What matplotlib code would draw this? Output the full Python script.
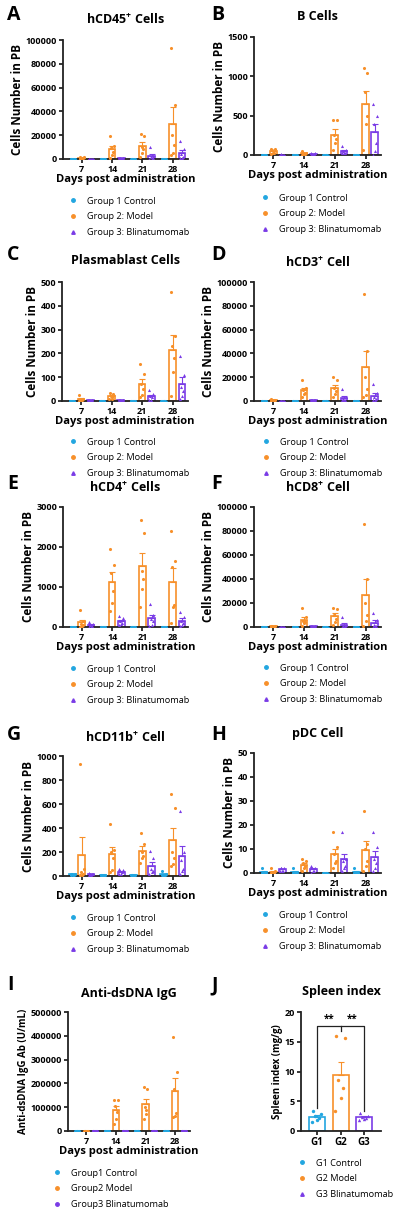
import matplotlib
matplotlib.use("Agg")
import matplotlib.pyplot as plt
from matplotlib.lines import Line2D
import numpy as np

plt.rcParams["font.family"] = ["Open Sans", "DejaVu Sans"]
plt.rcParams["mathtext.fontset"] = "custom"
plt.rcParams["mathtext.rm"] = "Open Sans"
plt.rcParams["mathtext.bf"] = "Open Sans:bold"

C1, C2, C3 = "#22a6e0", "#f7902a", "#7a3ce6"
COLORS = [C1, C2, C3]

days = ["7", "14", "21", "28"]
groups = ["Group 1 Control", "Group 2: Model", "Group 3: Blinatumomab"]
groups_i = ["Group1 Control", "Group2 Model", "Group3 Blinatumomab"]
groups_j = ["G1 Control", "G2 Model", "G3 Blinatumomab"]

# per panel: [group][day] -> individual animals
hcd45 = [
    [[60, 40, 20, 10, 0, 0], [50, 30, 20, 10, 0, 0], [40, 20, 10, 0, 0, 0], [50, 30, 10, 0, 0, 0]],
    [[1800, 1500, 1000, 800, 500, 300], [19000, 11000, 9000, 6000, 3000, 1000],
     [21000, 19500, 10000, 8000, 5000, 2000], [93000, 45000, 20000, 12000, 5000, 3000]],
    [[400, 300, 200, 100, 50, 0], [1200, 800, 500, 300, 200, 100],
     [10000, 2500, 1500, 800, 300, 100], [15000, 8000, 4000, 2000, 1000, 500]],
]
bcells = [
    [[2, 1, 1, 0, 0, 0], [2, 1, 0, 0, 0, 0], [2, 1, 0, 0, 0, 0], [2, 1, 0, 0, 0, 0]],
    [[80, 70, 60, 30, 20, 10], [50, 30, 20, 10, 5, 5],
     [450, 440, 260, 200, 150, 60], [1110, 1040, 800, 500, 400, 60]],
    [[10, 5, 5, 2, 1, 0], [30, 20, 15, 10, 5, 5],
     [120, 60, 50, 30, 20, 20], [650, 500, 400, 150, 50, 0]],
]
plasma = [
    [[1, 1, 0, 0, 0, 0], [1, 0, 0, 0, 0, 0], [1, 0, 0, 0, 0, 0], [1, 0, 0, 0, 0, 0]],
    [[25, 10, 5, 5, 2, 0], [35, 30, 20, 15, 10, 10],
     [155, 115, 70, 50, 25, 15], [460, 275, 230, 180, 120, 20]],
    [[5, 5, 3, 2, 1, 0], [6, 4, 3, 2, 1, 0],
     [45, 30, 20, 15, 5, 5], [190, 110, 60, 40, 20, 10]],
]
hcd3 = [
    [[40, 20, 10, 0, 0, 0], [40, 20, 10, 0, 0, 0], [30, 20, 0, 0, 0, 0], [40, 20, 0, 0, 0, 0]],
    [[1500, 1200, 800, 600, 400, 200], [18000, 11000, 9000, 7000, 6000, 3000],
     [20000, 18000, 11000, 8000, 6000, 3000], [90000, 42000, 20000, 10000, 5000, 3000]],
    [[300, 200, 150, 100, 50, 0], [1200, 900, 700, 500, 300, 200],
     [10000, 3000, 2000, 1000, 500, 500], [14000, 7000, 3000, 2000, 1000, 500]],
]
hcd4 = [
    [[3, 2, 1, 0, 0, 0], [3, 2, 1, 0, 0, 0], [3, 2, 0, 0, 0, 0], [3, 1, 0, 0, 0, 0]],
    [[420, 150, 80, 50, 20, 10], [1960, 1550, 1350, 900, 600, 400],
     [2680, 2350, 1400, 1200, 950, 500], [2400, 1650, 1500, 550, 500, 100]],
    [[120, 80, 50, 30, 10, 10], [280, 220, 150, 100, 80, 60],
     [580, 300, 200, 150, 50, 30], [380, 250, 150, 100, 50, 30]],
]
hcd8 = [
    [[30, 20, 10, 0, 0, 0], [30, 20, 0, 0, 0, 0], [30, 10, 0, 0, 0, 0], [30, 10, 0, 0, 0, 0]],
    [[1200, 900, 600, 400, 300, 200], [16000, 8000, 5000, 4000, 3000, 1000],
     [16000, 15000, 10000, 7000, 4000, 2000], [86000, 40000, 20000, 10000, 5000, 1000]],
    [[300, 200, 100, 50, 0, 0], [1000, 700, 500, 300, 200, 100],
     [8000, 2000, 1000, 500, 300, 200], [12000, 6000, 2000, 1000, 500, 0]],
]
hcd11b = [
    [[20, 15, 15, 10, 10, 10], [12, 10, 10, 8, 8, 6], [12, 10, 10, 8, 8, 6], [40, 15, 10, 10, 5, 5]],
    [[930, 60, 30, 20, 10, 5], [430, 220, 200, 150, 50, 30],
     [360, 270, 200, 170, 150, 110], [680, 570, 200, 150, 100, 80]],
    [[25, 20, 15, 15, 10, 10], [60, 50, 40, 30, 20, 20],
     [210, 150, 60, 40, 30, 20], [545, 200, 130, 60, 40, 20]],
]
pdc = [
    [[2, 0, 0, 0, 0, 0], [2, 0, 0, 0, 0, 0], [0, 0, 0, 0, 0, 0], [2, 0, 0, 0, 0, 0]],
    [[2, 1, 0, 0, 0, 0], [6, 5, 4, 3, 2, 1], [17, 11, 8, 5, 4, 2], [26, 12, 10, 5, 3, 1]],
    [[2, 2, 2, 1, 1, 1], [3, 2, 2, 1, 1, 0], [17, 6, 5, 3, 2, 1], [17, 11, 6, 4, 2, 1]],
]
dsdna = [
    [[0, 0, 0, 0, 0, 0], [0, 0, 0, 0, 0, 0], [0, 0, 0, 0, 0, 0], [0, 0, 0, 0, 0, 0]],
    [[800, 500, 300, 200, 100, 0], [130000, 130000, 105000, 80000, 50000, 30000],
     [185000, 175000, 100000, 90000, 70000, 50000], [395000, 250000, 175000, 75000, 65000, 60000]],
    [[0, 0, 0, 0, 0, 0], [0, 0, 0, 0, 0, 0], [0, 0, 0, 0, 0, 0], [0, 0, 0, 0, 0, 0]],
]
spleen_labels = ["G1", "G2", "G3"]
spleen = [
    [3.3, 2.8, 2.5, 2.2, 1.8, 1.5],
    [16.0, 15.7, 8.5, 7.3, 5.5, 3.4],
    [3.0, 2.5, 2.3, 2.2, 2.0, 1.8],
]

JITTER = np.array([-0.06, 0.06, -0.03, 0.03, 0.0, -0.07])
MARKERS = ["o", "o", "^"]
W, H = 409, 1217


def fax(left, right, top, bottom):
    return fig.add_axes([left / W, 1 - bottom / H, (right - left) / W, (bottom - top) / H])


def style(ax, ylabel, ysize):
    for s in ["top", "right"]:
        ax.spines[s].set_visible(False)
    for s in ["left", "bottom"]:
        ax.spines[s].set_linewidth(1.3)
        ax.spines[s].set_color("#222222")
    ax.tick_params(length=3, width=1.1, pad=1.2, labelsize=6.5)
    for lab in ax.get_xticklabels() + ax.get_yticklabels():
        lab.set_fontweight("bold")
    ax.set_ylabel(ylabel, fontsize=ysize, fontweight="bold", labelpad=1)


def draw_bar(ax, x, vals, color, marker, width, ms):
    vals = np.asarray(vals, float)
    m = vals.mean()
    sem = vals.std(ddof=1) / np.sqrt(len(vals))
    ax.bar(x, m, width=width, facecolor="white", edgecolor=color, linewidth=1.2, zorder=2)
    ax.errorbar(x, m, yerr=[[0], [sem]], color=color, capsize=2, elinewidth=0.8,
                capthick=0.8, zorder=3)
    ax.scatter(x + JITTER[:len(vals)] * width / 0.22, vals, s=ms, color=color,
               marker=marker, linewidths=0, zorder=4)


def legend(ax, labels, mx, ry, markers=MARKERS):
    handles = [Line2D([], [], ls="none", marker=mk, color=c, markersize=2.5)
               for mk, c in zip(markers, COLORS)]
    ax.legend(handles, labels, loc="upper left", bbox_to_anchor=((mx - 8) / W, 1 - (ry - 7) / H),
              bbox_transform=fig.transFigure, frameon=False, fontsize=6.6,
              handlelength=1.0, handletextpad=1.0, labelspacing=0.72, borderpad=0)


def time_panel(box, data, title, ylim, yticks, letter, letter_xy, title_y, leg,
               ylabel="Cells Number in PB", ysize=8.5, labels=groups, markers=MARKERS):
    ax = fax(*box)
    x = np.arange(len(days))
    for g in range(3):
        for d in range(len(days)):
            draw_bar(ax, x[d] + (g - 1) * 0.3, data[g][d], COLORS[g], markers[g], 0.22, 5)
    ax.set_xlim(-0.62, 3.5)
    ax.set_ylim(*ylim)
    ax.set_yticks(yticks)
    ax.set_xticks(x)
    ax.set_xticklabels(days)
    style(ax, ylabel, ysize)
    ax.set_xlabel("Days post administration", fontsize=8, fontweight="bold", labelpad=0)
    cx = (box[0] + box[1]) / 2 / W
    fig.text(cx, 1 - title_y / H, title, ha="center", va="center", fontsize=9, fontweight="bold")
    fig.text(letter_xy[0] / W, 1 - letter_xy[1] / H, letter, ha="left", va="center",
             fontsize=14, fontweight="bold")
    legend(ax, labels, *leg, markers=markers)
    return ax


fig = plt.figure(figsize=(W / 100, H / 100), dpi=100)

time_panel((63, 188, 40, 159), hcd45, r"hCD45$^{\mathbf{+}}$ Cells", (0, 100000),
           range(0, 100001, 20000), "A", (7, 15), 19, (72, 199))
time_panel((254, 381, 37, 155), bcells, "B Cells", (0, 1500),
           range(0, 1501, 500), "B", (211, 15), 16, (264, 196))
time_panel((62, 188, 282, 401), plasma, "Plasmablast Cells", (0, 500),
           range(0, 501, 100), "C", (7, 255), 261, (72, 440))
time_panel((254, 381, 282, 401), hcd3, r"hCD3$^{\mathbf{+}}$ Cell", (0, 100000),
           range(0, 100001, 20000), "D", (211, 255), 262, (265, 440))
time_panel((63, 188, 507, 627), hcd4, r"hCD4$^{\mathbf{+}}$ Cells", (0, 3000),
           range(0, 3001, 1000), "E", (7, 484), 487, (72, 667))
time_panel((254, 381, 507, 627), hcd8, r"hCD8$^{\mathbf{+}}$ Cell", (0, 100000),
           range(0, 100001, 20000), "F", (211, 484), 487, (265, 666))
time_panel((63, 188, 756, 876), hcd11b, r"hCD11b$^{\mathbf{+}}$ Cell", (0, 1000),
           range(0, 1001, 200), "G", (7, 735), 737, (72, 916))
time_panel((254, 381, 753, 873), pdc, "pDC Cell", (0, 50),
           range(0, 51, 10), "H", (211, 735), 734, (264, 913))
time_panel((68, 190, 1012, 1131), dsdna, "Anti-dsDNA IgG", (0, 500000),
           range(0, 500001, 100000), "I", (7, 985), 993, (56, 1171),
           ylabel="Anti-dsDNA IgG Ab (U/mL)", ysize=7, labels=groups_i,
           markers=["o", "o", "o"])

# J: spleen index
axj = fax(301, 381, 1012, 1131)
for g in range(3):
    draw_bar(axj, g, spleen[g], COLORS[g], MARKERS[g], 0.68, 6)
axj.set_xlim(-0.68, 2.72)
axj.set_ylim(0, 20)
axj.set_yticks(range(0, 21, 5))
axj.set_xticks(range(3))
axj.set_xticklabels(spleen_labels)
style(axj, "Spleen index (mg/g)", 7)
axj.tick_params(axis="x", labelsize=7)
yb = 17.7
axj.plot([0, 0, 2, 2], [3.8, yb, yb, 3.3], color="#222222", lw=0.9, zorder=5)
axj.plot([1, 1], [yb, 16.8], color="#222222", lw=0.9, zorder=5)
axj.text(0.5, yb + 0.2, "**", ha="center", va="bottom", fontsize=7, fontweight="bold")
axj.text(1.5, yb + 0.2, "**", ha="center", va="bottom", fontsize=7, fontweight="bold")
fig.text(341 / W, 1 - 992 / H, "Spleen index", ha="center", va="center",
         fontsize=9, fontweight="bold")
fig.text(211 / W, 1 - 985 / H, "J", ha="left", va="center", fontsize=14, fontweight="bold")
legend(axj, groups_j, 301, 1161)

fig.savefig("out.png", dpi=100)
